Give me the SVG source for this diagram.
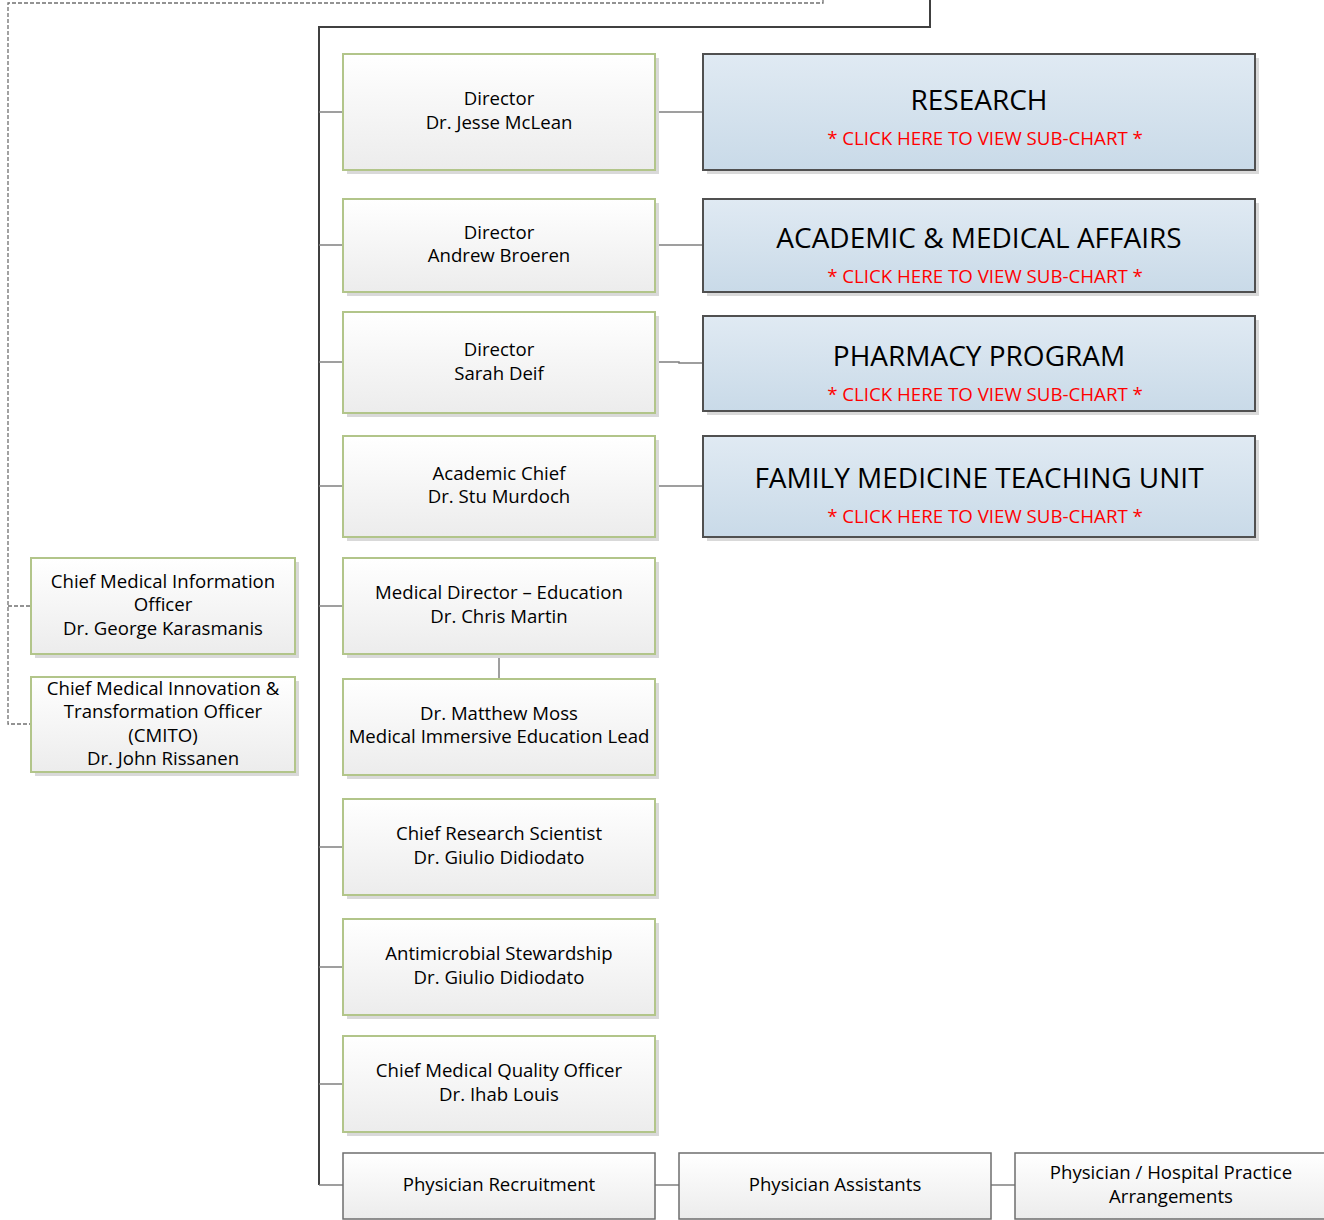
<svg xmlns="http://www.w3.org/2000/svg" width="1324" height="1220" viewBox="0 0 1324 1220">
<defs>
<linearGradient id="gg" x1="0" y1="0" x2="0" y2="1"><stop offset="0" stop-color="#ffffff"/><stop offset="1" stop-color="#ececec"/></linearGradient>
<linearGradient id="bg" x1="0" y1="0" x2="0" y2="1"><stop offset="0" stop-color="#e0eaf3"/><stop offset="1" stop-color="#c9dae8"/></linearGradient>
<style>
.g{fill:url(#gg);stroke:#b2c58a;stroke-width:2}
.p{fill:url(#gg);stroke:#6e6e6e;stroke-width:1.5}
.b{fill:url(#bg);stroke:#505050;stroke-width:2}
.sh{fill:#d9d9d9}
.t{font-family:"Open Sans","Liberation Sans",sans-serif;font-size:18.6px;fill:#000;text-anchor:middle}
.h{font-family:"Open Sans","Liberation Sans",sans-serif;font-size:28px;fill:#000;text-anchor:middle}
.r{font-family:"Open Sans","Liberation Sans",sans-serif;font-size:18.7px;fill:#ff0000;text-anchor:middle}
.br{stroke:#7f7f7f;stroke-width:1.5;fill:none}
.main{stroke:#404040;stroke-width:2;fill:none}
.dash{stroke:#707070;stroke-width:1.3;stroke-dasharray:4 2;fill:none}
</style>
</defs>
<rect width="1324" height="1220" fill="#fff"/>
<g id="connectors">
<polyline class="dash" points="823,0 823,3 8,3 8,724 30,724"/>
<line class="dash" x1="8" y1="606" x2="30" y2="606"/>
<polyline class="main" points="930,0 930,27 319,27 319,1185"/>
<line class="br" x1="319" y1="112" x2="343" y2="112"/>
<line class="br" x1="319" y1="245" x2="343" y2="245"/>
<line class="br" x1="319" y1="362" x2="343" y2="362"/>
<line class="br" x1="319" y1="486" x2="343" y2="486"/>
<line class="br" x1="319" y1="606" x2="343" y2="606"/>
<line class="br" x1="319" y1="847" x2="343" y2="847"/>
<line class="br" x1="319" y1="967" x2="343" y2="967"/>
<line class="br" x1="319" y1="1084" x2="343" y2="1084"/>
<line class="br" x1="319" y1="1185" x2="343" y2="1185"/>
<line class="br" x1="655" y1="112" x2="703" y2="112"/>
<line class="br" x1="655" y1="245" x2="703" y2="245"/>
<polyline class="br" points="655,362 679,362 679,363 703,363"/>
<line class="br" x1="655" y1="486" x2="703" y2="486"/>
<line class="br" x1="499" y1="654" x2="499" y2="679"/>
<line class="br" x1="655" y1="1185" x2="679" y2="1185"/>
<line class="br" x1="991" y1="1185" x2="1015" y2="1185"/>
</g>
<g id="n1"><rect class="sh" x="347" y="58" width="312" height="116"/><rect class="g" x="343" y="54" width="312" height="116"/><text class="t" x="499" y="105">Director</text><text class="t" x="499" y="129">Dr. Jesse McLean</text></g>
<g id="n2"><rect class="sh" x="347" y="203" width="312" height="93"/><rect class="g" x="343" y="199" width="312" height="93"/><text class="t" x="499" y="239">Director</text><text class="t" x="499" y="262">Andrew Broeren</text></g>
<g id="n3"><rect class="sh" x="347" y="316" width="312" height="101"/><rect class="g" x="343" y="312" width="312" height="101"/><text class="t" x="499" y="356">Director</text><text class="t" x="499" y="380">Sarah Deif</text></g>
<g id="n4"><rect class="sh" x="347" y="440" width="312" height="101"/><rect class="g" x="343" y="436" width="312" height="101"/><text class="t" x="499" y="480">Academic Chief</text><text class="t" x="499" y="503">Dr. Stu Murdoch</text></g>
<g id="n5"><rect class="sh" x="347" y="562" width="312" height="96"/><rect class="g" x="343" y="558" width="312" height="96"/><text class="t" x="499" y="599">Medical Director – Education</text><text class="t" x="499" y="623">Dr. Chris Martin</text></g>
<g id="n6"><rect class="sh" x="347" y="683" width="312" height="96"/><rect class="g" x="343" y="679" width="312" height="96"/><text class="t" x="499" y="720">Dr. Matthew Moss</text><text class="t" x="499" y="743">Medical Immersive Education Lead</text></g>
<g id="n7"><rect class="sh" x="347" y="803" width="312" height="96"/><rect class="g" x="343" y="799" width="312" height="96"/><text class="t" x="499" y="840">Chief Research Scientist</text><text class="t" x="499" y="864">Dr. Giulio Didiodato</text></g>
<g id="n8"><rect class="sh" x="347" y="923" width="312" height="96"/><rect class="g" x="343" y="919" width="312" height="96"/><text class="t" x="499" y="960">Antimicrobial Stewardship</text><text class="t" x="499" y="984">Dr. Giulio Didiodato</text></g>
<g id="n9"><rect class="sh" x="347" y="1040" width="312" height="96"/><rect class="g" x="343" y="1036" width="312" height="96"/><text class="t" x="499" y="1077">Chief Medical Quality Officer</text><text class="t" x="499" y="1101">Dr. Ihab Louis</text></g>
<g id="n10"><rect class="p" x="343" y="1153" width="312" height="66"/><text class="t" x="499" y="1191">Physician Recruitment</text></g>
<g id="n11"><rect class="p" x="679" y="1153" width="312" height="66"/><text class="t" x="835" y="1191">Physician Assistants</text></g>
<g id="n12"><rect class="p" x="1015" y="1153" width="312" height="66"/><text class="t" x="1171" y="1179">Physician / Hospital Practice</text><text class="t" x="1171" y="1203">Arrangements</text></g>
<g id="l1"><rect class="sh" x="35" y="562" width="264" height="96"/><rect class="g" x="31" y="558" width="264" height="96"/><text class="t" x="163" y="588">Chief Medical Information</text><text class="t" x="163" y="611">Officer</text><text class="t" x="163" y="635">Dr. George Karasmanis</text></g>
<g id="l2"><rect class="sh" x="35" y="681" width="264" height="95"/><rect class="g" x="31" y="677" width="264" height="95"/><text class="t" x="163" y="695">Chief Medical Innovation &amp;</text><text class="t" x="163" y="718">Transformation Officer</text><text class="t" x="163" y="742">(CMITO)</text><text class="t" x="163" y="765">Dr. John Rissanen</text></g>
<g id="b1"><rect class="sh" x="707" y="58" width="552" height="116"/><rect class="b" x="703" y="54" width="552" height="116"/><text class="h" x="979" y="110">RESEARCH</text><text class="r" x="985" y="145">* CLICK HERE TO VIEW SUB-CHART *</text></g>
<g id="b2"><rect class="sh" x="707" y="203" width="552" height="93"/><rect class="b" x="703" y="199" width="552" height="93"/><text class="h" x="979" y="248">ACADEMIC &amp; MEDICAL AFFAIRS</text><text class="r" x="985" y="283">* CLICK HERE TO VIEW SUB-CHART *</text></g>
<g id="b3"><rect class="sh" x="707" y="320" width="552" height="95"/><rect class="b" x="703" y="316" width="552" height="95"/><text class="h" x="979" y="366">PHARMACY PROGRAM</text><text class="r" x="985" y="401">* CLICK HERE TO VIEW SUB-CHART *</text></g>
<g id="b4"><rect class="sh" x="707" y="440" width="552" height="101"/><rect class="b" x="703" y="436" width="552" height="101"/><text class="h" x="979" y="488">FAMILY MEDICINE TEACHING UNIT</text><text class="r" x="985" y="523">* CLICK HERE TO VIEW SUB-CHART *</text></g>
</svg>
